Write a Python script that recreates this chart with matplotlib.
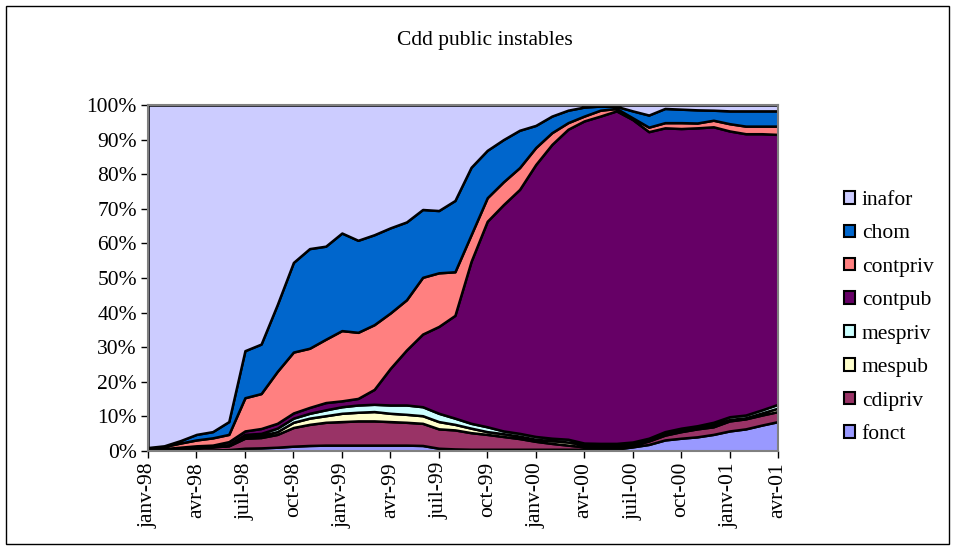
import numpy as np
import matplotlib
matplotlib.use("Agg")
import matplotlib.pyplot as plt
from matplotlib.patches import Rectangle, Patch

plt.rcParams['font.family'] = ['Liberation Serif', 'DejaVu Serif']

# 40 months, janv-98 .. avr-01
months = np.arange(40)
tick_labels = ['janv-98', 'avr-98', 'juil-98', 'oct-98',
               'janv-99', 'avr-99', 'juil-99', 'oct-99',
               'janv-00', 'avr-00', 'juil-00', 'oct-00',
               'janv-01', 'avr-01']

# shares in %
fonct = [0.2, 0.2, 0.3, 0.3, 0.3, 0.4, 0.8, 0.9, 1.1, 1.4, 1.6, 1.7, 1.7, 1.7, 1.7, 1.7, 1.7, 1.6, 0.8, 0.6,
         0.5, 0.5, 0.5, 0.5, 0.5, 0.5, 0.5, 0.5, 0.5, 0.6, 1.2, 1.9, 3.2, 3.7, 4.1, 4.8, 5.8, 6.4, 7.5, 8.5]
cdipriv = [0.1, 0.3, 0.5, 0.7, 0.9, 1.1, 2.9, 3.0, 3.7, 5.4, 6.1, 6.6, 6.8, 7.0, 7.0, 6.8, 6.6, 6.4, 5.6, 5.5,
           4.8, 4.3, 3.7, 3.1, 2.3, 1.7, 1.2, 0.7, 0.7, 0.6, 0.4, 1.0, 1.4, 1.9, 2.3, 2.2, 2.9, 2.9, 2.9, 2.9]
mespub = [0.1, 0.1, 0.1, 0.1, 0.1, 0.2, 0.5, 0.6, 0.8, 1.5, 1.8, 1.9, 2.4, 2.5, 2.7, 2.4, 2.3, 2.2, 2.1, 1.6,
          1.3, 0.8, 0.8, 0.7, 0.6, 0.8, 0.9, 0.6, 0.5, 0.5, 0.4, 0.2, 0.3, 0.3, 0.2, 0.6, 0.4, 0.3, 0.6, 1.0]
mespriv = [0.0, 0.0, 0.1, 0.1, 0.1, 0.1, 0.6, 0.6, 1.0, 1.2, 1.4, 1.7, 1.9, 2.1, 2.1, 2.4, 2.7, 2.6, 2.4, 1.8,
           1.4, 1.4, 0.8, 0.8, 0.8, 0.7, 0.8, 0.5, 0.5, 0.5, 0.6, 0.6, 0.7, 0.7, 0.7, 0.7, 0.8, 0.8, 0.9, 1.1]
contpub = [0.1, 0.1, 0.1, 0.3, 0.3, 0.9, 1.0, 1.4, 1.4, 1.5, 1.7, 2.1, 1.7, 1.9, 4.3, 10.6, 15.9, 21.0, 25.1, 29.7,
           46.8, 59.4, 65.4, 70.5, 78.6, 84.9, 89.6, 93.1, 94.6, 96.1, 93.2, 88.6, 87.8, 86.6, 86.1, 85.4, 82.6, 81.3, 79.8, 78.0]
contpriv = [0.3, 0.6, 1.2, 1.7, 2.1, 2.1, 9.6, 10.1, 15.0, 17.6, 17.1, 18.3, 20.3, 19.1, 18.7, 16.0, 14.5, 16.4, 15.5, 12.6,
            7.7, 6.8, 6.6, 6.3, 4.9, 3.4, 1.9, 1.4, 1.7, 0.7, 0.5, 1.3, 1.5, 1.7, 1.4, 1.9, 2.1, 2.2, 2.2, 2.4]
chom = [0.2, 0.2, 0.7, 1.6, 1.8, 3.7, 13.6, 14.3, 19.3, 25.9, 28.8, 26.9, 28.2, 26.6, 26.0, 24.6, 22.5, 19.6, 18.0, 20.6,
        19.5, 13.7, 12.2, 10.8, 6.4, 4.8, 3.6, 2.6, 1.2, 0.6, 2.0, 3.5, 4.1, 3.9, 3.8, 2.9, 3.7, 4.4, 4.4, 4.4]
inafor = [99.0, 98.5, 97.0, 95.2, 94.4, 91.5, 71.0, 69.1, 57.7, 45.5, 41.5, 40.8, 37.0, 39.1, 37.5, 35.5, 33.8, 30.2, 30.5, 27.6,
          18.0, 13.1, 10.0, 7.3, 5.9, 3.2, 1.5, 0.6, 0.3, 0.4, 1.7, 2.9, 1.0, 1.2, 1.4, 1.5, 1.7, 1.7, 1.7, 1.7]

names = ['fonct', 'cdipriv', 'mespub', 'mespriv', 'contpub', 'contpriv', 'chom', 'inafor']
colors = ['#9999FF', '#993366', '#FFFFCC', '#CCFFFF', '#660066', '#FF8080', '#0066CC', '#CCCCFF']

data = np.array([fonct, cdipriv, mespub, mespriv, contpub, contpriv, chom, inafor])
shares = data / data.sum(axis=0) * 100

fs = 15.5

fig = plt.figure(figsize=(9.55, 5.5), dpi=100)
ax = fig.add_axes([148 / 955, 1 - 451 / 550, 630 / 955, 346 / 550])

ax.stackplot(months, shares, colors=colors, edgecolor='black', linewidth=1.8)

ax.set_xlim(0, 39)
ax.set_ylim(0, 100)
ax.set_yticks(np.arange(0, 101, 10))
ax.set_yticklabels([f'{v}%' for v in range(0, 101, 10)])
ax.set_xticks(months[::3])
ax.set_xticklabels(tick_labels, rotation=90)
ax.tick_params(axis='both', labelsize=fs, length=5, width=1, color='black', pad=3)
for sp in ax.spines.values():
    sp.set_color('#808080')
    sp.set_linewidth(1.5)

fig.text(485 / 955, 1 - 41 / 550, 'Cdd public instables', ha='center', va='center', fontsize=fs)

handles = [Patch(facecolor=c, edgecolor='black', linewidth=1.5) for c in colors[::-1]]
fig.legend(handles, names[::-1], loc='upper left', bbox_to_anchor=(844 / 955, 1 - 191 / 550),
           frameon=False, fontsize=fs, borderpad=0, borderaxespad=0,
           handlelength=0.52, handleheight=0.52, handletextpad=0.3, labelspacing=0.67)

fig.patches.append(Rectangle((6 / 955, 6 / 550), 943 / 955, 538 / 550, transform=fig.transFigure,
                             fill=False, edgecolor='black', linewidth=1))

fig.savefig('out.png', dpi=100)
